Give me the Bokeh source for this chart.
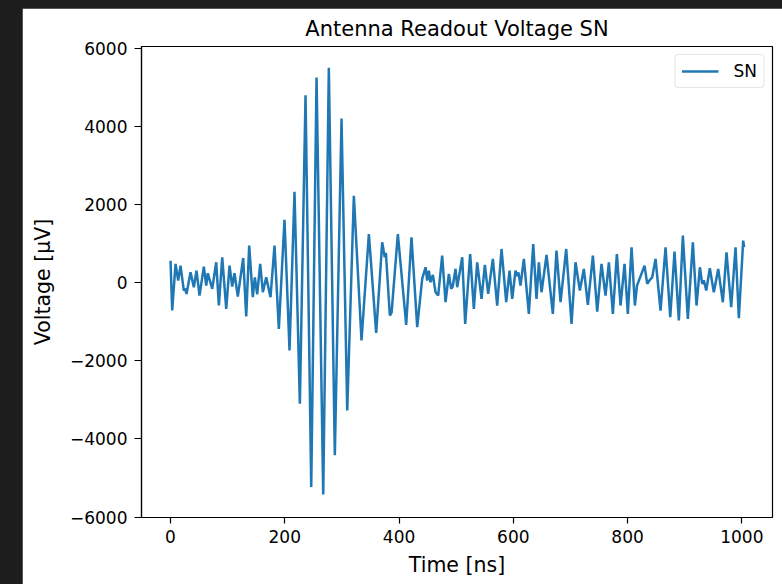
from bokeh.plotting import figure
from bokeh.models import Range1d, FixedTicker
from bokeh.embed import file_html
from bokeh.resources import INLINE

# ---- data (extrema of the waveform) ----
time_ns = [
    0, 2.9, 8.8, 13.4, 17.5, 23.3, 25.5, 28, 35, 40.8, 45.5, 50.8, 58.3, 62.5, 65.3,
    73, 80, 84.6, 90.5, 97.5, 103.3, 108, 112, 117.8, 127.2, 132.5, 137.7, 144,
    147.6, 151.7, 157, 161.6, 167.5, 175, 182, 189.6, 199.5, 208.3, 217, 226.4,
    236.3, 246.3, 255.6, 267.3, 277.1, 287.6, 299.3, 309.3, 320.9, 334.3, 347.2,
    360, 370.5, 375, 377, 383.9, 387, 397.9, 412.5, 421.8, 431.8, 440.5, 446.4,
    449.3, 452.2, 455, 459.2, 463.9, 468.5, 475.5, 481.4, 487.2, 491.3, 494,
    498.9, 501.8, 510.6, 515.8, 524.5, 530.9, 536.8, 544.4, 550.2, 556, 564.2,
    571.8, 579.4, 587.6, 593.4, 598.1, 603.9, 606.5, 609, 612.6, 618.5, 627.2,
    634.9, 640.6, 644.7, 649.4, 658.2, 669.2, 675.6, 682.7, 692.6, 701.9, 708.9,
    716.5, 723.5, 730.5, 739.3, 746.9, 754.4, 761.4, 767.3, 774.3, 781.3, 787.7,
    794.7, 800.5, 807, 812.8, 816.5, 829.7, 834.4, 838.5, 843.1, 849, 857.7,
    866.5, 874.7, 882.2, 889.8, 896.8, 905.5, 914.3, 920.7, 926.6, 930.7, 933.5,
    937.7, 944, 951, 958.7, 966.8, 973.2, 981.4, 989, 994.8, 1002.4, 1004,
]
voltage_uV = [
    560, -715, 477, 51, 434, -204, -150, -290, 263, -119, 306, -332, 409, -77, 238,
    -161, 519, -587, 647, -672, 434, -102, 238, -358, 630, -868, 945, -375,
    135, -300, 477, -247, 135, -375, 945, -1183, 1609, -1737, 2324, -3098,
    4794, -5228, 5244, -5422, 5499, -4418, 4196, -3269, 2222, -1481, 1243,
    -1286, 1030, 647, 760, -843, -760, 1243, -1081, 1158, -1141, 94, 392,
    51, 306, 9, 196, -247, -332, 690, -502, 221, -162, -100,
    349, -119, 647, -1056, 732, -673, 519, -417, 451, -290, 605,
    -587, 860, -502, 306, -417, 306, 170, 260, -77, 605, -800,
    988, -417, 519, -247, 707, -800, 817, -502, 860, -1056, 519,
    -204, 349, -570, 690, -741, 477, -332, 519, -800, 732, -587,
    477, -800, 903, -587, -77, 434, -34, 60, 135, 605, -715,
    903, -885, 792, -970, 1200, -930, 1030, -587, 392, -34, 60,
    -204, 366, -247, 349, -502, 775, -630, 903, -911, 1073, 903,
]
x_ticks = [0, 200, 400, 600, 800, 1000]
y_ticks = [-6000, -4000, -2000, 0, 2000, 4000, 6000]
series_name = "SN"
title_text = "Antenna Readout Voltage SN"
x_label = "Time [ns]"
y_label = "Voltage [\u03bcV]"

FONT = "DejaVu Sans"

p = figure(
    width=760, height=576,
    output_backend="svg", toolbar_location=None,
    x_range=Range1d(-50.8, 1053.7), y_range=Range1d(-6010, 6040),
    min_border_left=119, min_border_right=10, min_border_top=38, min_border_bottom=67,
    background_fill_color="white", border_fill_color="white",
)
p.margin = (8, 0, 0, 22)
p.outline_line_color = "black"
p.outline_line_width = 1.2
p.grid.visible = False

p.title.text = title_text
p.title.align = "center"
p.title.text_font = FONT
p.title.text_font_size = "21px"
p.title.text_font_style = "normal"
p.title.text_color = "black"
p.title.standoff = 12

for ax in (p.xaxis[0], p.yaxis[0]):
    ax.axis_line_color = "black"
    ax.axis_line_width = 1.2
    ax.major_tick_line_color = "black"
    ax.major_tick_line_width = 1.2
    ax.major_tick_in = 0
    ax.minor_tick_line_color = None
    ax.major_label_text_font = FONT
    ax.major_label_text_font_size = "17px"
    ax.major_label_text_color = "black"
    ax.axis_label_text_font = FONT
    ax.axis_label_text_font_size = "20.5px"
    ax.axis_label_text_font_style = "normal"
    ax.axis_label_text_color = "black"

p.xaxis[0].ticker = FixedTicker(ticks=x_ticks)
p.xaxis[0].major_tick_out = 6
p.xaxis[0].major_label_standoff = 6
p.xaxis[0].axis_label = x_label
p.xaxis[0].axis_label_standoff = 7

p.yaxis[0].ticker = FixedTicker(ticks=y_ticks)
p.yaxis[0].major_tick_out = 7
p.yaxis[0].major_label_standoff = 7
p.yaxis[0].axis_label = y_label
p.yaxis[0].axis_label_standoff = 12
p.yaxis[0].major_label_overrides = {
    t: (("\u2212" + str(abs(t))) if t < 0 else str(t)) for t in y_ticks
}

p.line(time_ns, voltage_uV, line_color="#1f77b4", line_width=2.5, legend_label=series_name)

lg = p.legend[0]
lg.location = "top_right"
lg.margin = 8
lg.padding = 6
lg.spacing = 0
lg.glyph_width = 37
lg.glyph_height = 20
lg.label_standoff = 15
lg.label_text_font = FONT
lg.label_text_font_size = "17px"
lg.label_text_color = "black"
lg.border_line_color = "#cccccc"
lg.border_line_width = 1
lg.background_fill_alpha = 0.8
if "border_radius" in lg.properties():
    lg.border_radius = 4

html = file_html(p, INLINE)
html = html.replace("</head>", "<style>html,body{background-color:#1d1d1d;}</style></head>", 1)
open("out.html", "w").write(html)
